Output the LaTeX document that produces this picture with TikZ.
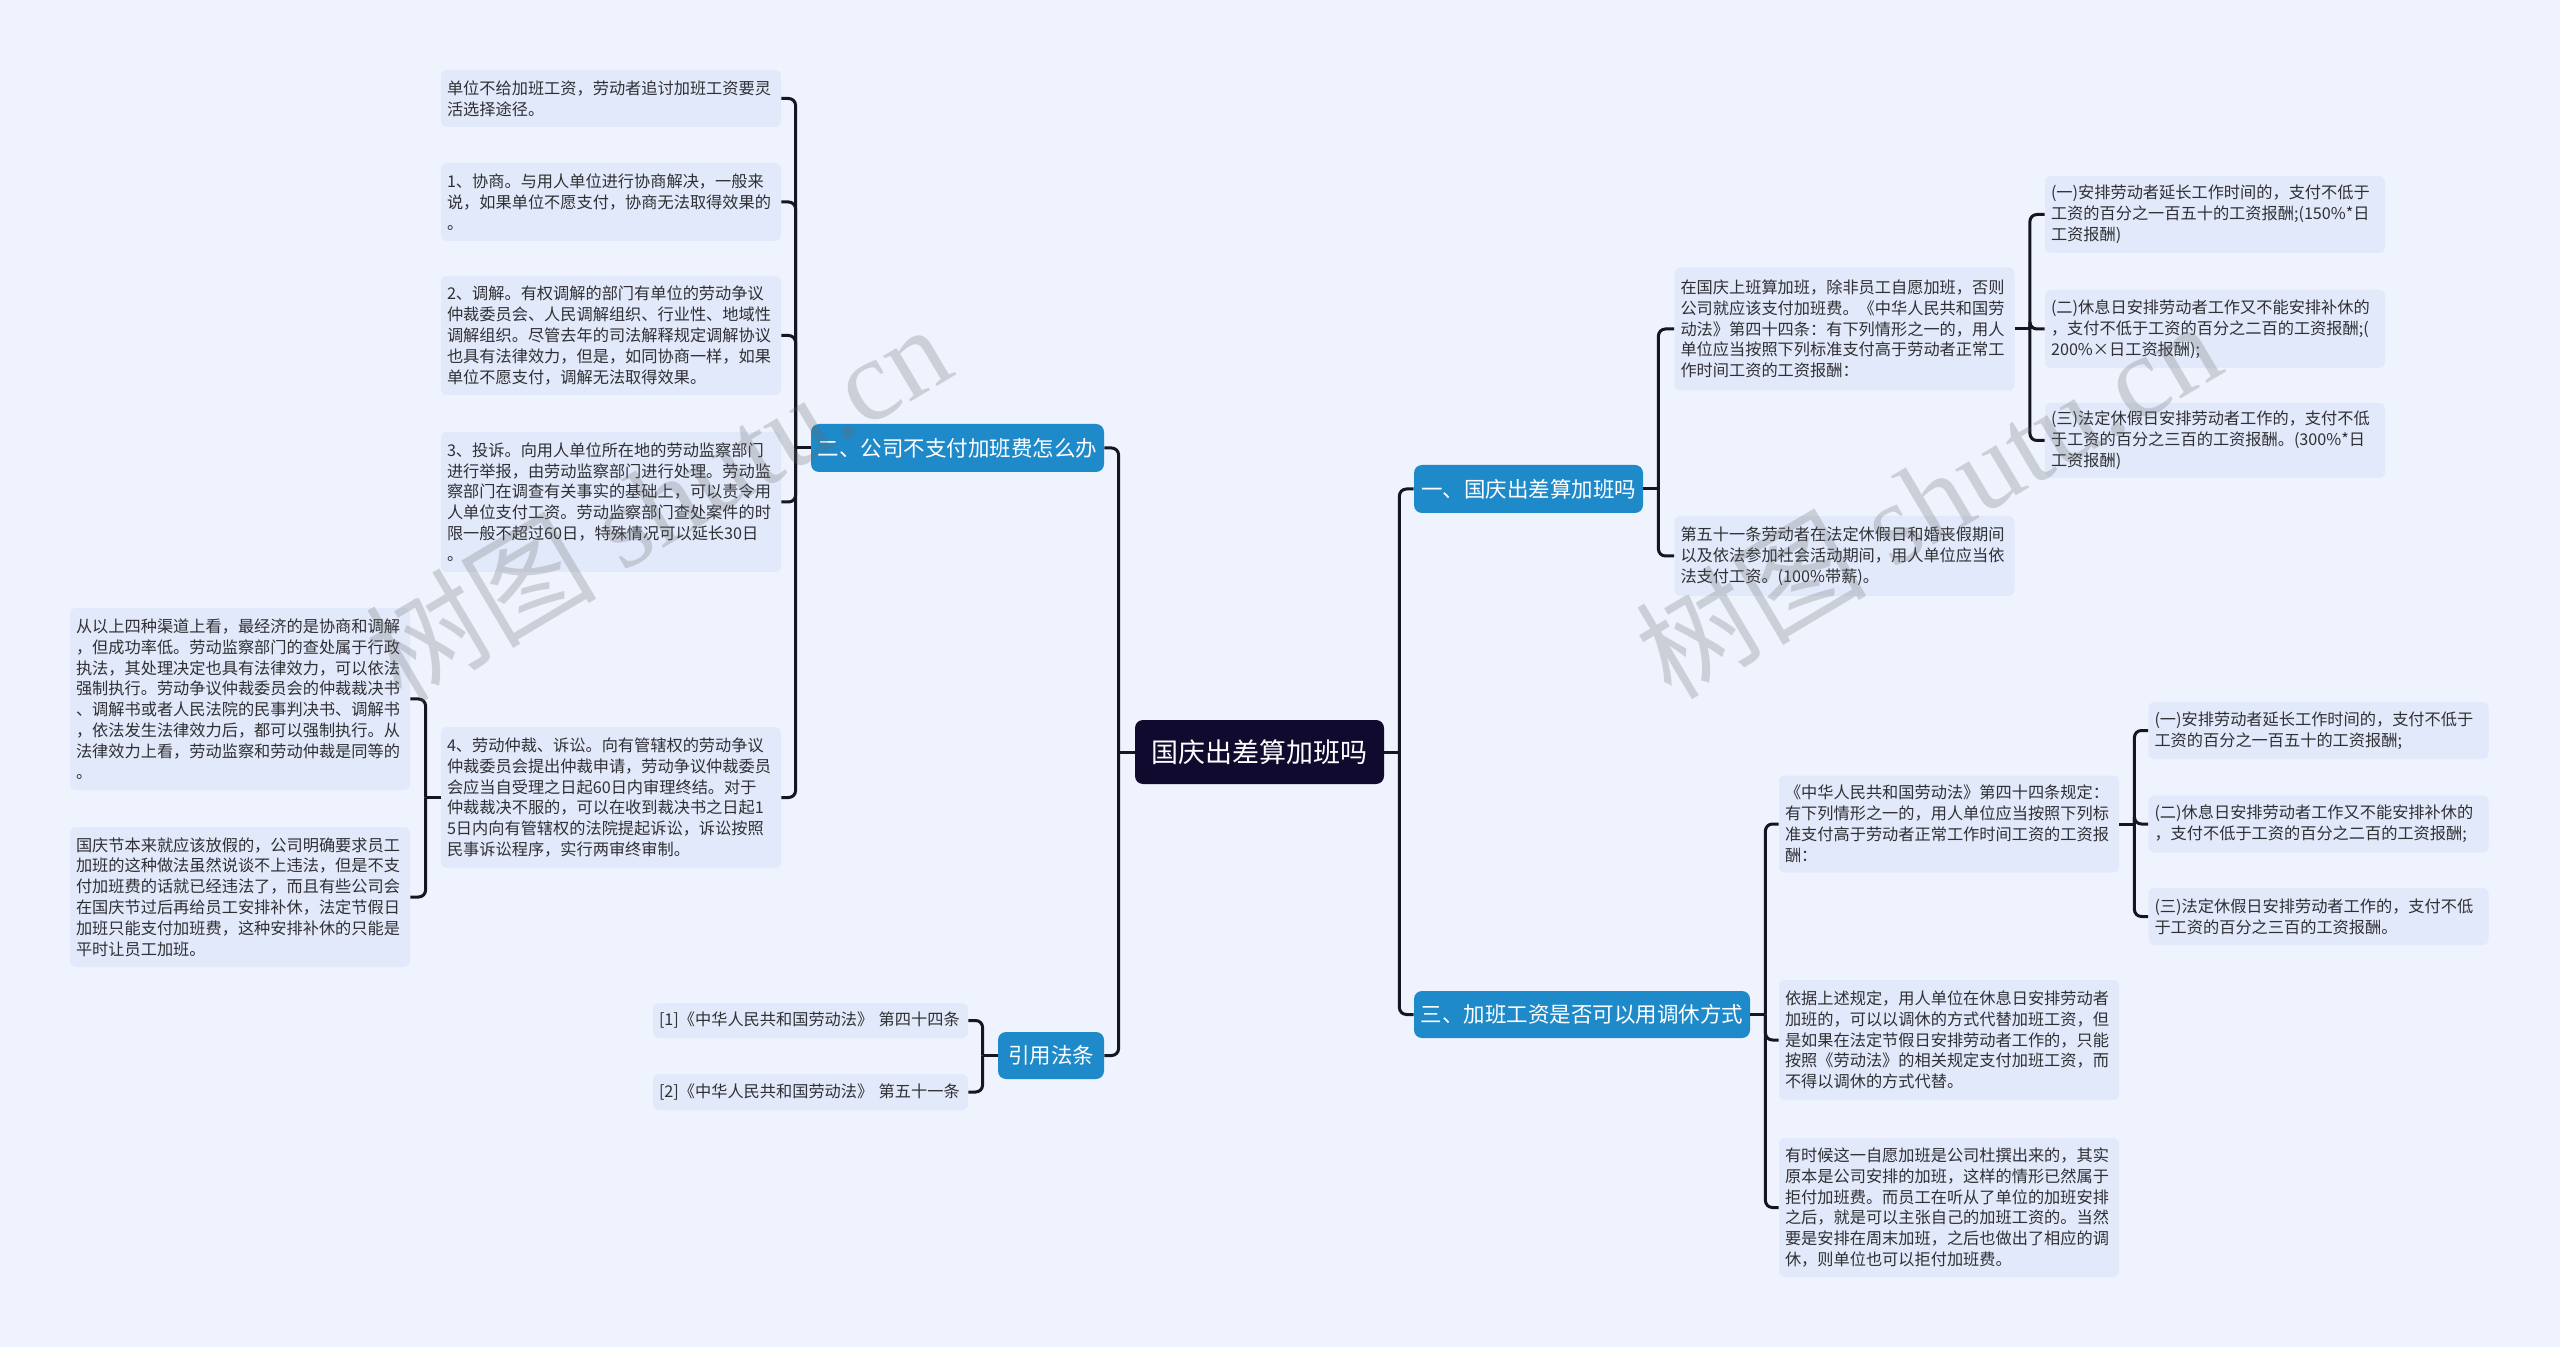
\documentclass[tikz,border=0pt]{standalone}
\usepackage{fontspec}
\setmainfont{Noto Sans CJK SC}
\newfontfamily\wmlatin{Liberation Serif}
\definecolor{bgc}{RGB}{238,243,253}
\definecolor{leaffill}{RGB}{226,233,250}
\definecolor{txt}{RGB}{48,48,52}
\definecolor{branchc}{RGB}{31,138,202}
\definecolor{rootc}{RGB}{16,11,46}
\definecolor{linec}{RGB}{22,22,34}
\tikzset{
  leaf/.style={fill=leaffill, rounded corners=3pt, text=txt,
    font=\fontsize{8.1pt}{10.4pt}\selectfont, align=left,
    text width=164pt, inner xsep=3pt, inner ysep=0pt, anchor=center},
  refleaf/.style={leaf, text width=151.5pt},
  branch/.style={fill=branchc, rounded corners=4pt, text=white,
    font=\fontsize{10.75pt}{13pt}\selectfont, align=center,
    inner xsep=2pt, inner ysep=0pt, minimum height=24pt, anchor=center},
  rootnode/.style={fill=rootc, rounded corners=4pt, text=white,
    font=\fontsize{13.5pt}{16pt}\selectfont, align=center,
    inner xsep=2pt, inner ysep=0pt, minimum width=124.5pt, minimum height=32pt},
  conn/.style={draw=linec, line width=1.5pt, rounded corners=3.5pt},
  wm/.style={text=black!60, text opacity=0.25, font=\fontsize{58pt}{62pt}\selectfont, inner sep=0pt, rotate=30.7}
}
\begin{document}
\begin{tikzpicture}[x=0.5pt,y=-0.5pt]
\fill[bgc] (0,0) rectangle (2560,1347);
\useasboundingbox (0,0) rectangle (2560,1347);

% root and branches
\node[rootnode] (C) at (1259.5,752) {国庆出差算加班吗};
\node[branch, minimum width=146.5pt] (B2n) at (957.5,448) {二、公司不支付加班费怎么办};
\node[branch, minimum width=53pt, minimum height=23.5pt] (Rn) at (1051,1055.5) {引用法条};
\node[branch, minimum width=114.5pt] (B1n) at (1528.5,489) {一、国庆出差算加班吗};
\node[branch, minimum width=168pt, minimum height=23.5pt] (B3n) at (1582,1014.5) {三、加班工资是否可以用调休方式};

% left leaves
\node[leaf, minimum height=28.5pt] (L0) at (611,98.5) {单位不给加班工资，劳动者追讨加班工资要灵\\活选择途径。};
\node[leaf, minimum height=39pt] (L1) at (611,202) {1、协商。与用人单位进行协商解决，一般来\\说，如果单位不愿支付，协商无法取得效果的\\。};
\node[leaf, minimum height=59.5pt] (L2) at (611,335.5) {2、调解。有权调解的部门有单位的劳动争议\\仲裁委员会、人民调解组织、行业性、地域性\\调解组织。尽管去年的司法解释规定调解协议\\也具有法律效力，但是，如同协商一样，如果\\单位不愿支付，调解无法取得效果。};
\node[leaf, minimum height=70pt] (L3) at (611,502) {3、投诉。向用人单位所在地的劳动监察部门\\进行举报，由劳动监察部门进行处理。劳动监\\察部门在调查有关事实的基础上，可以责令用\\人单位支付工资。劳动监察部门查处案件的时\\限一般不超过60日，特殊情况可以延长30日\\。};
\node[leaf, minimum height=70.5pt] (L4) at (611,797.5) {4、劳动仲裁、诉讼。向有管辖权的劳动争议\\仲裁委员会提出仲裁申请，劳动争议仲裁委员\\会应当自受理之日起60日内审理终结。对于\\仲裁裁决不服的，可以在收到裁决书之日起1\\5日内向有管辖权的法院提起诉讼，诉讼按照\\民事诉讼程序，实行两审终审制。};
\node[leaf, minimum height=91pt] (LL0) at (240,699) {从以上四种渠道上看，最经济的是协商和调解\\，但成功率低。劳动监察部门的查处属于行政\\执法，其处理决定也具有法律效力，可以依法\\强制执行。劳动争议仲裁委员会的仲裁裁决书\\、调解书或者人民法院的民事判决书、调解书\\，依法发生法律效力后，都可以强制执行。从\\法律效力上看，劳动监察和劳动仲裁是同等的\\。};
\node[leaf, minimum height=70pt] (LL1) at (240,897) {国庆节本来就应该放假的，公司明确要求员工\\加班的这种做法虽然说谈不上违法，但是不支\\付加班费的话就已经违法了，而且有些公司会\\在国庆节过后再给员工安排补休，法定节假日\\加班只能支付加班费，这种安排补休的只能是\\平时让员工加班。};
\node[refleaf, minimum height=17.5pt] (R1) at (810.5,1020.5) {[1]《中华人民共和国劳动法》 第四十四条};
\node[refleaf, minimum height=18pt] (R2) at (810.5,1092) {[2]《中华人民共和国劳动法》 第五十一条};

% right leaves
\node[leaf, minimum height=61.5pt] (A1) at (1844.5,329) {在国庆上班算加班，除非员工自愿加班，否则\\公司就应该支付加班费。《中华人民共和国劳\\动法》第四十四条：有下列情形之一的，用人\\单位应当按照下列标准支付高于劳动者正常工\\作时间工资的工资报酬：};
\node[leaf, minimum height=40pt] (A2) at (1844.5,556) {第五十一条劳动者在法定休假日和婚丧假期间\\以及依法参加社会活动期间，用人单位应当依\\法支付工资。(100\%带薪)。};
\node[leaf, minimum height=38.5pt] (A1c1) at (2215,214.5) {(一)安排劳动者延长工作时间的，支付不低于\\工资的百分之一百五十的工资报酬;(150\%*日\\工资报酬)};
\node[leaf, minimum height=39pt] (A1c2) at (2215,329) {(二)休息日安排劳动者工作又不能安排补休的\\，支付不低于工资的百分之二百的工资报酬;(\\200\%×日工资报酬);};
\node[leaf, minimum height=37.5pt] (A1c3) at (2215,440.5) {(三)法定休假日安排劳动者工作的，支付不低\\于工资的百分之三百的工资报酬。(300\%*日\\工资报酬)};
\node[leaf, minimum height=48.5pt] (B1) at (1949,824) {《中华人民共和国劳动法》第四十四条规定：\\有下列情形之一的，用人单位应当按照下列标\\准支付高于劳动者正常工作时间工资的工资报\\酬：};
\node[leaf, minimum height=28.5pt] (B1c1) at (2318.5,730.5) {(一)安排劳动者延长工作时间的，支付不低于\\工资的百分之一百五十的工资报酬;};
\node[leaf, minimum height=28.5pt] (B1c2) at (2318.5,824) {(二)休息日安排劳动者工作又不能安排补休的\\，支付不低于工资的百分之二百的工资报酬;};
\node[leaf, minimum height=28.5pt] (B1c3) at (2318.5,916.5) {(三)法定休假日安排劳动者工作的，支付不低\\于工资的百分之三百的工资报酬。};
\node[leaf, minimum height=60pt] (B2) at (1949,1040) {依据上述规定，用人单位在休息日安排劳动者\\加班的，可以以调休的方式代替加班工资，但\\是如果在法定节假日安排劳动者工作的，只能\\按照《劳动法》的相关规定支付加班工资，而\\不得以调休的方式代替。};
\node[leaf, minimum height=69.5pt] (B3) at (1949,1207.5) {有时候这一自愿加班是公司杜撰出来的，其实\\原本是公司安排的加班，这样的情形已然属于\\拒付加班费。而员工在听从了单位的加班安排\\之后，就是可以主张自己的加班工资的。当然\\要是安排在周末加班，之后也做出了相应的调\\休，则单位也可以拒付加班费。};

% junction coordinates
\path (C.west) ++(-16,0) coordinate (jCL);
\path (C.east) ++(15,0) coordinate (jCR);
\path (B2n.west) ++(-15,0) coordinate (jB2);
\path (L4.west) ++(-15,0) coordinate (jL4);
\path (Rn.west) ++(-15,0) coordinate (jR);
\path (B1n.east) ++(15,0) coordinate (jB1);
\path (A1.east) ++(15,0) coordinate (jA1);
\path (B3n.east) ++(15,0) coordinate (jB3);
\path (B1.east) ++(15,0) coordinate (jBB1);

% connectors
\draw[conn] (C.west) -- (jCL);
\draw[conn] (jCL) |- (B2n.east);
\draw[conn] (jCL) |- (Rn.east);
\draw[conn] (C.east) -- (jCR);
\draw[conn] (jCR) |- (B1n.west);
\draw[conn] (jCR) |- (B3n.west);

\draw[conn] (B2n.west) -- (jB2);
\foreach \n in {L0,L1,L2,L3,L4} \draw[conn] (jB2) |- (\n.east);
\draw[conn] (L4.west) -- (jL4);
\foreach \n in {LL0,LL1} \draw[conn] (jL4) |- (\n.east);
\draw[conn] (Rn.west) -- (jR);
\foreach \n in {R1,R2} \draw[conn] (jR) |- (\n.east);

\draw[conn] (B1n.east) -- (jB1);
\foreach \n in {A1,A2} \draw[conn] (jB1) |- (\n.west);
\draw[conn] (A1.east) -- (jA1);
\foreach \n in {A1c1,A1c2,A1c3} \draw[conn] (jA1) |- (\n.west);
\draw[conn] (B3n.east) -- (jB3);
\foreach \n in {B1,B2,B3} \draw[conn] (jB3) |- (\n.west);
\draw[conn] (B1.east) -- (jBB1);
\foreach \n in {B1c1,B1c2,B1c3} \draw[conn] (jBB1) |- (\n.west);

% watermarks (drawn over the diagram, semi-transparent)
\node[wm] (wm1) at (657,501) {树图 {\wmlatin shutu.cn}};
\node[wm] (wm2) at (1927,498) {树图 {\wmlatin shutu.cn}};
\end{tikzpicture}
\end{document}
